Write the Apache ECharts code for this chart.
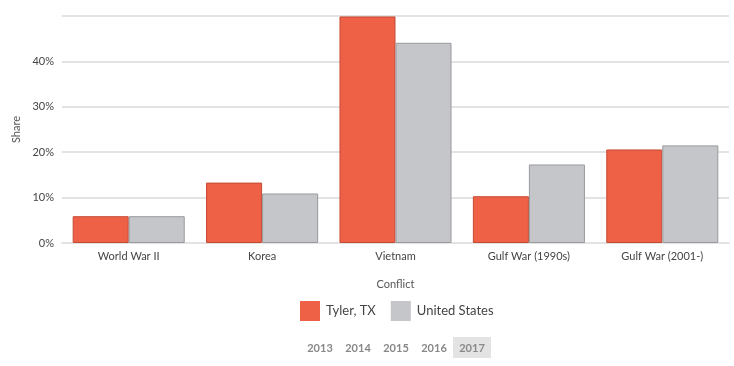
<!DOCTYPE html>
<html><head><meta charset="utf-8">
<script src="https://cdn.jsdelivr.net/npm/echarts@6/dist/echarts.min.js"></script>
<style>html,body{margin:0;padding:0;background:#fff}#c{width:734px;height:366px}</style>
</head><body><div id="c"></div>
<script>
var categories = ["World War II", "Korea", "Vietnam", "Gulf War (1990s)", "Gulf War (2001-)"];
var tylerValues = [5.9, 13.3, 49.9, 10.3, 20.6];
var usValues = [5.9, 10.9, 44.1, 17.3, 21.5];
var seriesNames = ["Tyler, TX", "United States"];
var years = ["2013", "2014", "2015", "2016", "2017"];
var activeYear = "2017";

var font = "Lato, 'Open Sans', sans-serif";
var chart = echarts.init(document.getElementById('c'), null, {renderer: 'canvas'});
var yearGraphics = [];
var yx = [320, 358, 396, 434, 472];
years.forEach(function (y, i) {
  if (y === activeYear) {
    yearGraphics.push({type: 'rect', shape: {x: yx[i] - 19, y: 337, width: 38, height: 21}, style: {fill: '#e3e3e3'}});
  }
  yearGraphics.push({type: 'text', x: yx[i], y: 348, style: {text: y, fill: '#888', font: 'bold 11px ' + font, textAlign: 'center', textVerticalAlign: 'middle'}});
});
chart.setOption({
  animation: false,
  textStyle: {fontFamily: font},
  grid: {left: 62, right: 5, top: 16, bottom: 123},
  legend: {
    data: seriesNames, top: 296, left: 295, itemWidth: 20, itemHeight: 20, itemGap: 15,
    icon: 'rect', itemStyle: {borderWidth: 0},
    textStyle: {fontSize: 13, color: '#444', fontFamily: font, padding: [0, 0, 0, 1]}
  },
  xAxis: {
    type: 'category', data: categories, name: 'Conflict', nameLocation: 'middle', nameGap: 36,
    nameTextStyle: {fontSize: 11, color: '#555'},
    axisLine: {lineStyle: {color: '#e3e3e3', width: 2}}, axisTick: {show: false},
    axisLabel: {fontSize: 11, color: '#444', margin: 8}
  },
  yAxis: {
    type: 'value', min: 0, max: 50, interval: 10, name: 'Share', nameLocation: 'middle', nameGap: 36,
    nameTextStyle: {fontSize: 11, color: '#555'},
    axisLabel: {formatter: function (v) { return v === 50 ? '' : v + '%'; }, fontSize: 11, color: '#444', margin: 8},
    splitLine: {lineStyle: {color: '#e3e3e3', width: 2}},
    axisLine: {show: false}, axisTick: {show: false}
  },
  series: [
    {name: seriesNames[0], type: 'bar', data: tylerValues, barGap: '0%', barCategoryGap: '16%',
     itemStyle: {color: '#ee6146', borderColor: '#c54a34', borderWidth: 1}},
    {name: seriesNames[1], type: 'bar', data: usValues,
     itemStyle: {color: '#c5c6ca', borderColor: '#999a9e', borderWidth: 1}}
  ],
  graphic: yearGraphics
});
</script></body></html>
